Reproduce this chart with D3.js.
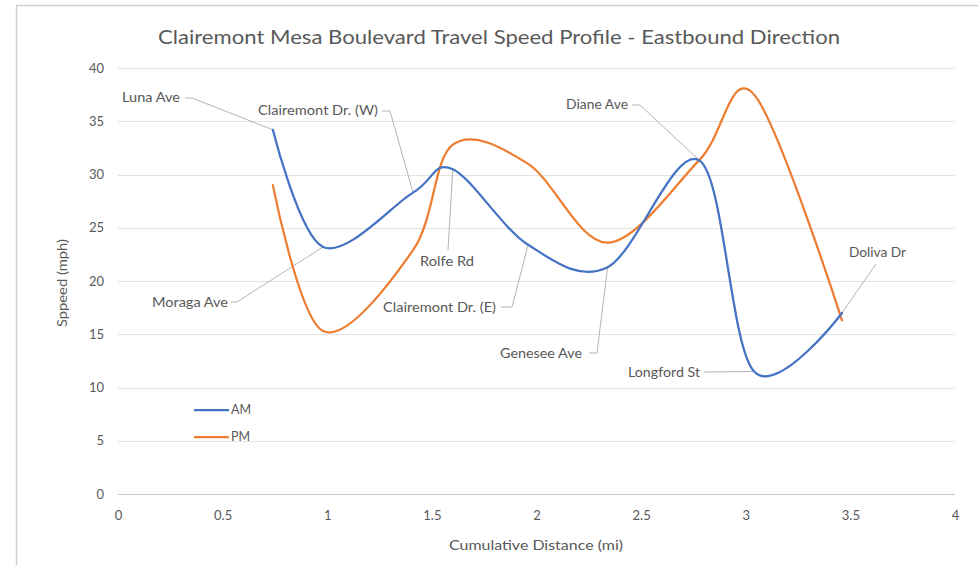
<!DOCTYPE html>
<html>
<head>
<meta charset="utf-8">
<script src="https://cdn.jsdelivr.net/npm/d3@7"></script>
<style>
  html, body { margin: 0; padding: 0; background: #fff; }
  svg { display: block; }
  text { font-family: Lato, "Open Sans", "Liberation Sans", sans-serif; fill: #595959; }
</style>
</head>
<body>
<svg id="chart" width="978" height="565"></svg>
<script>
// ---- data ----
const stations = ["Luna Ave", "Moraga Ave", "Clairemont Dr. (W)", "Rolfe Rd", "Clairemont Dr. (E)", "Genesee Ave", "Diane Ave", "Longford St", "Doliva Dr"];
const distance = [0.74, 0.98, 1.41, 1.60, 1.96, 2.34, 2.78, 3.04, 3.46];
const amSpeed  = [34.2, 23.2, 28.3, 30.5, 23.4, 21.3, 31.3, 11.5, 17.0];
const pmSpeed  = [29.0, 15.3, 22.9, 32.8, 31.0, 23.6, 31.4, 37.5, 16.3];
const seriesNames = ["AM", "PM"];
const xTicks = [0, 0.5, 1, 1.5, 2, 2.5, 3, 3.5, 4];
const yTicks = [0, 5, 10, 15, 20, 25, 30, 35, 40];
const titleText = "Clairemont Mesa Boulevard Travel Speed Profile - Eastbound Direction";
const xTitle = "Cumulative Distance (mi)";
const yTitle = "Sppeed (mph)";

// ---- layout (pixels) ----
const colors = {AM: "#4472C4", PM: "#ED7D31"};
const plot = {left: 118, right: 955, top: 68, bottom: 494};
const labelLayout = {
  "Luna Ave":           {x: 122, y: 98,  w: 58,  lead: [[185, 98], [192, 98]]},
  "Clairemont Dr. (W)": {x: 258, y: 111, w: 120, lead: [[382, 111], [390, 111]]},
  "Moraga Ave":         {x: 152, y: 303, w: 76,  lead: [[231, 302], [237, 302]]},
  "Rolfe Rd":           {x: 420, y: 262, w: 54,  lead: [[448, 250]]},
  "Clairemont Dr. (E)": {x: 383, y: 308, w: 113, lead: [[501, 307], [512, 307]]},
  "Genesee Ave":        {x: 500, y: 354, w: 82,  lead: [[589, 353], [597, 353]]},
  "Diane Ave":          {x: 566, y: 105, w: 62,  lead: [[632, 105], [640, 105]]},
  "Longford St":        {x: 628, y: 373, w: 72,  lead: [[704, 372]]},
  "Doliva Dr":          {x: 849, y: 253, w: 57,  lead: [[876, 264]]}
};

const svg = d3.select("#chart");

// frame
svg.append("path")
  .attr("d", "M16.5,565 L16.5,5.5 L978,5.5")
  .attr("fill", "none").attr("stroke", "#d0d0d0").attr("stroke-width", 1.5);

const x = d3.scaleLinear().domain([0, 4]).range([plot.left, plot.right]);
const y = d3.scaleLinear().domain([0, 40]).range([plot.bottom, plot.top]);

// gridlines
svg.append("g").selectAll("line").data(yTicks).join("line")
  .attr("x1", plot.left).attr("x2", plot.right)
  .attr("y1", d => Math.round(y(d)) + 0.5).attr("y2", d => Math.round(y(d)) + 0.5)
  .attr("stroke", d => d === 0 ? "#c8c8c8" : "#e3e3e3").attr("stroke-width", 1);

// y axis labels
const yAxis = d3.axisLeft(y).tickValues(yTicks).tickSize(0).tickPadding(0);
const gy = svg.append("g").attr("transform", `translate(${plot.left - 14},0)`).call(yAxis);
gy.select(".domain").remove();
gy.selectAll("text").style("font-size", "13px").attr("fill", "#595959");

// x axis labels
const xAxis = d3.axisBottom(x).tickValues(xTicks).tickSize(0).tickPadding(0).tickFormat(d3.format("~g"));
const gx = svg.append("g").attr("transform", `translate(0,${plot.bottom + 17})`).call(xAxis);
gx.select(".domain").remove();
gx.selectAll("text").style("font-size", "13px").attr("fill", "#595959");

// title
svg.append("text").attr("x", 499).attr("y", 44).attr("text-anchor", "middle")
  .style("font-size", "20px").attr("textLength", 682).attr("lengthAdjust", "spacingAndGlyphs")
  .text(titleText);

// axis titles
svg.append("text").attr("x", 536).attr("y", 550).attr("text-anchor", "middle")
  .style("font-size", "13px").attr("textLength", 174).attr("lengthAdjust", "spacingAndGlyphs")
  .text(xTitle);
svg.append("text").attr("transform", "translate(67,283) rotate(-90)").attr("text-anchor", "middle")
  .style("font-size", "13px").attr("textLength", 88).attr("lengthAdjust", "spacingAndGlyphs")
  .text(yTitle);

// leader lines & labels
const lg = svg.append("g");
stations.forEach((s, i) => {
  const L = labelLayout[s];
  const pts = L.lead.concat([[x(distance[i]), y(amSpeed[i])]]);
  lg.append("path").attr("d", d3.line()(pts))
    .attr("fill", "none").attr("stroke", "#b4b4b4").attr("stroke-width", 1);
  lg.append("text").attr("x", L.x).attr("y", L.y).attr("dy", "0.35em")
    .style("font-size", "12.5px").attr("textLength", L.w).attr("lengthAdjust", "spacingAndGlyphs")
    .text(s);
});

// series lines
const line = d3.line().curve(d3.curveCardinal.tension(0))
  .x(d => x(d[0])).y(d => y(d[1]));
const series = [
  {name: "AM", values: distance.map((d, i) => [d, amSpeed[i]])},
  {name: "PM", values: distance.map((d, i) => [d, pmSpeed[i]])}
];
svg.append("g").selectAll("path").data(series.slice().reverse()).join("path")
  .attr("d", d => line(d.values))
  .attr("fill", "none").attr("stroke", d => colors[d.name])
  .attr("stroke-width", 2.25).attr("stroke-linecap", "round").attr("stroke-linejoin", "round");

// legend
const leg = svg.append("g");
seriesNames.forEach((n, i) => {
  const ly = 410 + i * 27;
  leg.append("line").attr("x1", 194).attr("x2", 229).attr("y1", ly).attr("y2", ly)
    .attr("stroke", colors[n]).attr("stroke-width", 2.25);
  leg.append("text").attr("x", 231).attr("y", ly).attr("dy", "0.35em")
    .style("font-size", "12.5px").text(n);
});
</script>
</body>
</html>
